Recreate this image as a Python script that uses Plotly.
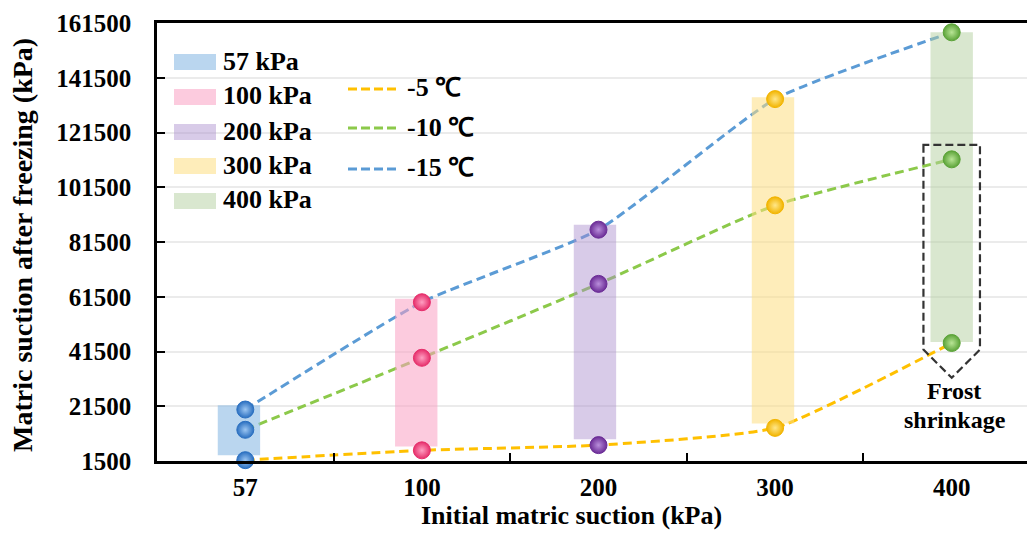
import plotly.graph_objects as go

# ---------------- data ----------------
categories = ["57", "100", "200", "300", "400"]
bar_names = ["57 kPa", "100 kPa", "200 kPa", "300 kPa", "400 kPa"]
bar_low = [3600, 6800, 9400, 15200, 45000]
bar_high = [21900, 60800, 87800, 134400, 158100]

line_names = ["-5 ℃", "-10 ℃", "-15 ℃"]
t_minus5 = [1800, 5400, 7300, 13600, 44600]
t_minus10 = [12900, 39200, 66200, 94900, 111700]
t_minus15 = [20300, 59500, 86000, 133700, 158100]

y_ticks = [1500, 21500, 41500, 61500, 81500, 101500, 121500, 141500, 161500]

# ---------------- styles ----------------
FONT = "Liberation Serif"
W, H = 1027, 537
ML, MR, MT, MB = 157, 0, 23, 76
PW, PH = W - ML - MR, H - MT - MB

bar_fill = ["rgba(140,186,228,0.6)", "rgba(250,160,195,0.55)", "rgba(168,140,205,0.45)",
            "rgba(253,222,130,0.55)", "rgba(180,208,160,0.5)"]
bar_shift = [-0.156, -0.152, -0.14, -0.132, -0.12]   # left edge of each bar relative to its category
marker_edge = ["#2a6fc0", "#e62e6b", "#6b2c96", "#f2b400", "#5ba338"]
marker_light = ["#9cc6f2", "#ff9fc2", "#b98edb", "#ffe78a", "#b9e596"]
line_colors = ["#ffc000", "#8cc94a", "#5b9bd5"]
series = [t_minus5, t_minus10, t_minus15]


def px_x(p):
    return (p - ML) / PW


def px_y(p):
    return (H - MB - p) / PH


fig = go.Figure()

# lines (bottom layer)
for name, vals, col in zip(line_names, series, line_colors):
    fig.add_trace(go.Scatter(
        x=categories, y=vals, mode="lines", name=name,
        line=dict(color=col, width=3, dash="9px,5px", shape="spline", smoothing=0.5),
        xaxis="x", yaxis="y", showlegend=False, hoverinfo="skip"))

# floating bars (middle layer, semi-transparent over lines)
fig.add_trace(go.Bar(
    x=categories, y=[h - l for h, l in zip(bar_high, bar_low)], base=bar_low,
    width=0.24, offset=bar_shift, marker=dict(color=bar_fill, line=dict(width=0)),
    xaxis="x2", yaxis="y2", showlegend=False, hoverinfo="skip"))

# markers (top layer)
for name, vals in zip(line_names, series):
    fig.add_trace(go.Scatter(
        x=categories, y=vals, mode="markers", name=name,
        marker=dict(size=17, color=marker_edge,
                    gradient=dict(type="radial", color=marker_light),
                    line=dict(color=marker_edge, width=1)),
        xaxis="x3", yaxis="y3", showlegend=False, cliponaxis=False))

# ---------------- axes ----------------
xrange = [-0.5, -0.5 + PW / 176.6]
yrange = [y_ticks[0], y_ticks[-1]]
tickfont = dict(family=FONT, size=25, color="black", weight="bold")

fig.update_layout(
    width=W, height=H,
    margin=dict(l=ML, r=MR, t=MT, b=MB),
    paper_bgcolor="white", plot_bgcolor="white",
    showlegend=False,
    xaxis=dict(type="category", categoryorder="array", categoryarray=categories,
               range=xrange, showline=True, linecolor="black", linewidth=2.5,
               mirror=True, ticks="inside", ticklen=8, tickwidth=2, tickcolor="black",
               tickson="boundaries", showgrid=False, zeroline=False,
               tickfont=tickfont, ticklabelstandoff=2),
    yaxis=dict(range=yrange, tickvals=y_ticks, tickformat="d",
               showline=True, linecolor="black", linewidth=2.5, mirror=False,
               ticks="inside", ticklen=8, tickwidth=2, tickcolor="black",
               showgrid=True, gridcolor="#ebebeb", gridwidth=1.5, zeroline=False,
               tickfont=tickfont, ticklabelstandoff=18),
    xaxis2=dict(type="category", categoryorder="array", categoryarray=categories,
                overlaying="x", matches="x", visible=False, range=xrange),
    yaxis2=dict(overlaying="y", matches="y", visible=False, range=yrange),
    xaxis3=dict(type="category", categoryorder="array", categoryarray=categories,
                overlaying="x", matches="x", visible=False, range=xrange),
    yaxis3=dict(overlaying="y", matches="y", visible=False, range=yrange),
)

shapes = []
annotations = []

# axis titles
annotations.append(dict(
    text="<b>Initial matric suction (kPa)</b>", xref="paper", yref="paper",
    x=px_x(571), y=px_y(515), xanchor="center", yanchor="middle", showarrow=False,
    font=dict(family=FONT, size=26, color="black")))
annotations.append(dict(
    text="<b>Matric suction after freezing (kPa)</b>", xref="paper", yref="paper",
    x=px_x(22), y=px_y(245), xanchor="center", yanchor="middle", showarrow=False,
    textangle=-90, font=dict(family=FONT, size=28, color="black")))

# custom legend: bars
bar_leg_y = [62, 97, 132, 166, 201]
for name, col, yy in zip(bar_names, bar_fill, bar_leg_y):
    shapes.append(dict(type="rect", xref="paper", yref="paper",
                       x0=px_x(174), x1=px_x(216), y0=px_y(yy - 8), y1=px_y(yy + 8),
                       fillcolor=col, line=dict(width=0), layer="above"))
    annotations.append(dict(text="<b>" + name + "</b>", xref="paper", yref="paper",
                            x=px_x(221), y=px_y(yy - 1), xanchor="left", yanchor="middle",
                            showarrow=False,
                            font=dict(family=FONT, size=26, color="black")))

# custom legend: lines
line_leg_y = [89, 128, 169]
for name, col, yy in zip(line_names, line_colors, line_leg_y):
    shapes.append(dict(type="line", xref="paper", yref="paper",
                       x0=px_x(348), x1=px_x(396), y0=px_y(yy), y1=px_y(yy),
                       line=dict(color=col, width=3, dash="9px,4px"), layer="above"))
    annotations.append(dict(text="<b>" + name + "</b>", xref="paper", yref="paper",
                            x=px_x(405), y=px_y(yy - 1), xanchor="left", yanchor="middle",
                            showarrow=False,
                            font=dict(family=FONT, size=26, color="black")))

# frost shrinkage marker (dashed pentagon around 400 kPa bar)
fi = categories.index("400")
hw = 0.16
top, side_bottom, tip = 117000, 42200, 31900
path = (f"M {fi - hw},{top} L {fi - hw},{side_bottom} L {fi},{tip} "
        f"L {fi + hw},{side_bottom} L {fi + hw},{top} Z")
shapes.append(dict(type="path", xref="x", yref="y", path=path,
                   line=dict(color="#333333", width=2.2, dash="8px,4px"),
                   fillcolor="rgba(0,0,0,0)", layer="above"))
annotations.append(dict(text="<b>Frost</b>", xref="paper", yref="paper",
                        x=px_x(954), y=px_y(391), xanchor="center", yanchor="middle",
                        showarrow=False, font=dict(family=FONT, size=24, color="black")))
annotations.append(dict(text="<b>shrinkage</b>", xref="paper", yref="paper",
                        x=px_x(955), y=px_y(420), xanchor="center", yanchor="middle",
                        showarrow=False, font=dict(family=FONT, size=24, color="black")))

fig.update_layout(shapes=shapes, annotations=annotations)

fig.write_html("out.html")
